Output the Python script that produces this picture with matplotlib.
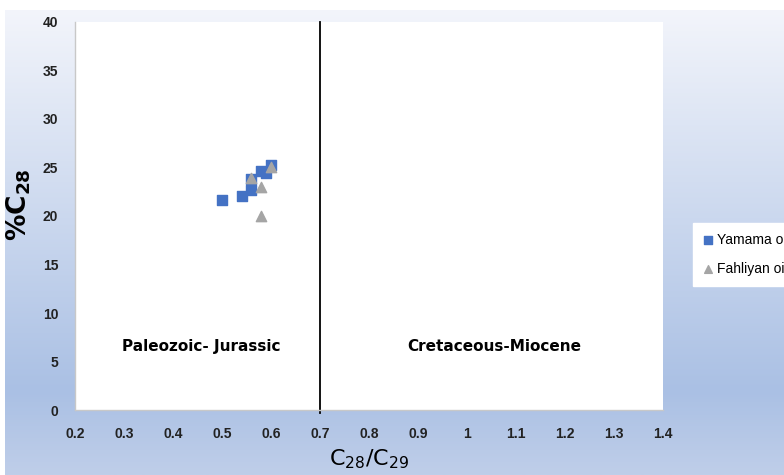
import numpy as np
import matplotlib.pyplot as plt
from matplotlib.colors import LinearSegmentedColormap

# data
yamama_x = [0.50, 0.54, 0.56, 0.56, 0.58, 0.59, 0.60]
yamama_y = [21.6, 22.1, 22.7, 23.8, 24.6, 24.4, 25.3]
fahliyan_x = [0.56, 0.58, 0.60, 0.58]
fahliyan_y = [23.9, 23.0, 25.0, 20.0]
x_ticks = [0.2, 0.3, 0.4, 0.5, 0.6, 0.7, 0.8, 0.9, 1.0, 1.1, 1.2, 1.3, 1.4]
x_tick_labels = ['0.2', '0.3', '0.4', '0.5', '0.6', '0.7', '0.8', '0.9', '1', '1.1', '1.2', '1.3', '1.4']
y_ticks = [0, 5, 10, 15, 20, 25, 30, 35, 40]

plt.rcParams['font.family'] = ['Liberation Sans Narrow', 'Liberation Sans', 'DejaVu Sans']
plt.rcParams['mathtext.default'] = 'regular'

fig = plt.figure(figsize=(7.84, 4.75), dpi=100)

# gradient background (chart area of the office chart)
bg = fig.add_axes([0.006, 0.0, 0.994, 0.979])
bg.axis('off')
cmap = LinearSegmentedColormap.from_list('bg', [(0.0, '#f3f5fb'), (0.82, '#aac0e4'), (1.0, '#bfcee9')])
grad = np.linspace(0, 1, 256).reshape(-1, 1)
bg.imshow(grad, aspect='auto', cmap=cmap, extent=[0, 1, 1, 0])

ax = fig.add_axes([0.0957, 0.1368, 0.75, 0.817])
ax.set_facecolor('white')
ax.set_xlim(0.2, 1.4)
ax.set_ylim(0, 40)

ax.scatter(yamama_x, yamama_y, marker='s', s=60, color='#4472c4', label='Yamama oil', zorder=3)
ax.scatter(fahliyan_x, fahliyan_y, marker='^', s=55, color='#a5a5a5', label='Fahliyan oil', zorder=4)

ax.axvline(0.7, ymin=-0.008, ymax=1.0, color='black', lw=1.3, clip_on=False)

ax.text(0.457, 6.5, 'Paleozoic- Jurassic', ha='center', va='center', fontsize=11,
        fontweight='bold', family=['DejaVu Sans'])
ax.text(1.055, 6.5, 'Cretaceous-Miocene', ha='center', va='center', fontsize=11,
        fontweight='bold', family=['DejaVu Sans'])

ax.set_xticks(x_ticks)
ax.set_xticklabels(x_tick_labels)
ax.set_yticks(y_ticks)
ax.tick_params(length=0, labelsize=10, pad=12)
for lab in ax.get_xticklabels() + ax.get_yticklabels():
    lab.set_fontweight('bold')
    lab.set_color('#222222')

for s in ['top', 'right']:
    ax.spines[s].set_visible(False)
for s in ['left', 'bottom']:
    ax.spines[s].set_color('#c8c8c8')
    ax.spines[s].set_linewidth(1)

ax.set_xlabel('C$_{28}$/C$_{29}$', fontsize=16, labelpad=5, family=['DejaVu Sans'])
ax.set_ylabel('%C$_{28}$', fontsize=19, fontweight='bold', family=['DejaVu Sans'])
ax.yaxis.set_label_coords(-0.071, 0.528)

leg = ax.legend(loc='upper left', bbox_to_anchor=(1.051, 0.482), frameon=True, fancybox=False,
                edgecolor='white', framealpha=1, fontsize=10, handletextpad=0.2,
                handlelength=0.8, labelspacing=1.1, borderpad=0.7, borderaxespad=0,
                markerscale=0.75)
for t in leg.get_texts():
    t.set_family(['Liberation Sans', 'DejaVu Sans'])

fig.savefig('out.png', dpi=100)
